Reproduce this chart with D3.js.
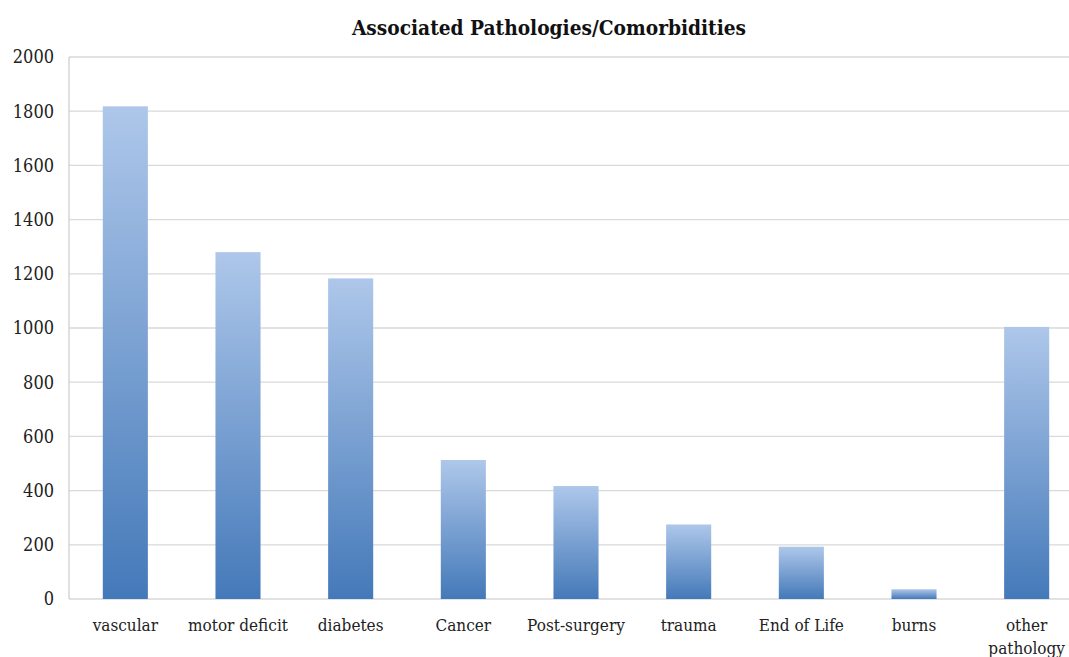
<!DOCTYPE html>
<html>
<head>
<meta charset="utf-8">
<script src="https://cdn.jsdelivr.net/npm/d3@7"></script>
<style>
body { margin: 0; background: #fff; }
svg { display: block; font-family: "DejaVu Serif Condensed", "DejaVu Serif", serif; }
</style>
</head>
<body>
<div id="chart"></div>
<script>
const categories = ["vascular", "motor deficit", "diabetes", "Cancer", "Post-surgery", "trauma", "End of Life", "burns", "other pathology"];
const values = [1818, 1280, 1183, 513, 417, 275, 193, 36, 1004];
const yTicks = [0, 200, 400, 600, 800, 1000, 1200, 1400, 1600, 1800, 2000];

const width = 1069, height = 657;
const svg = d3.select("#chart").append("svg")
	.attr("width", width)
	.attr("height", height);

// plot area runs off the right edge like the source image
const x = d3.scaleBand().domain(categories).range([69, 1083]).paddingInner(0.6).paddingOuter(0.3);
const y = d3.scaleLinear().domain([0, 2000]).range([599, 57]);

const grad = svg.append("defs").append("linearGradient")
	.attr("id", "barGrad")
	.attr("x1", 0).attr("y1", 0).attr("x2", 0).attr("y2", 1);
grad.append("stop").attr("offset", "0%").attr("stop-color", "#aec7ea");
grad.append("stop").attr("offset", "100%").attr("stop-color", "#4479b9");

// gridlines
svg.append("g")
	.selectAll("line")
	.data(yTicks)
	.enter().append("line")
	.attr("x1", 69).attr("x2", width)
	.attr("y1", d => y(d)).attr("y2", d => y(d))
	.attr("stroke", "#d9d9d9")
	.attr("stroke-width", 1.3);

// left axis line
svg.append("line")
	.attr("x1", 69).attr("x2", 69)
	.attr("y1", y(2000)).attr("y2", y(0))
	.attr("stroke", "#d0d0d0")
	.attr("stroke-width", 1.3);

svg.append("g")
	.selectAll("rect")
	.data(values)
	.enter().append("rect")
	.attr("x", (d, i) => x(categories[i]))
	.attr("y", d => y(d))
	.attr("width", x.bandwidth())
	.attr("height", d => y(0) - y(d))
	.attr("fill", "url(#barGrad)");

// y tick labels
svg.append("g")
	.selectAll("text")
	.data(yTicks)
	.enter().append("text")
	.attr("x", 54)
	.attr("y", d => y(d))
	.attr("dy", "0.35em")
	.attr("text-anchor", "end")
	.attr("font-size", 18)
	.attr("fill", "#222")
	.text(d => d);

// x labels
const xl = svg.append("g")
	.selectAll("text")
	.data(categories)
	.enter().append("text")
	.attr("x", d => x(d) + x.bandwidth() / 2)
	.attr("y", 631)
	.attr("text-anchor", "middle")
	.attr("font-size", 17)
	.attr("fill", "#222");
xl.each(function(d) {
	const t = d3.select(this);
	const parts = d === "other pathology" ? ["other", "pathology"] : [d];
	parts.forEach((p, j) => {
		t.append("tspan")
			.attr("x", x(d) + x.bandwidth() / 2)
			.attr("dy", j === 0 ? 0 : 23)
			.text(p);
	});
});

svg.append("text")
	.attr("x", 549)
	.attr("y", 35)
	.attr("text-anchor", "middle")
	.attr("font-size", 20.7)
	.attr("font-weight", "bold")
	.attr("fill", "#111")
	.text("Associated Pathologies/Comorbidities");
</script>
</body>
</html>
